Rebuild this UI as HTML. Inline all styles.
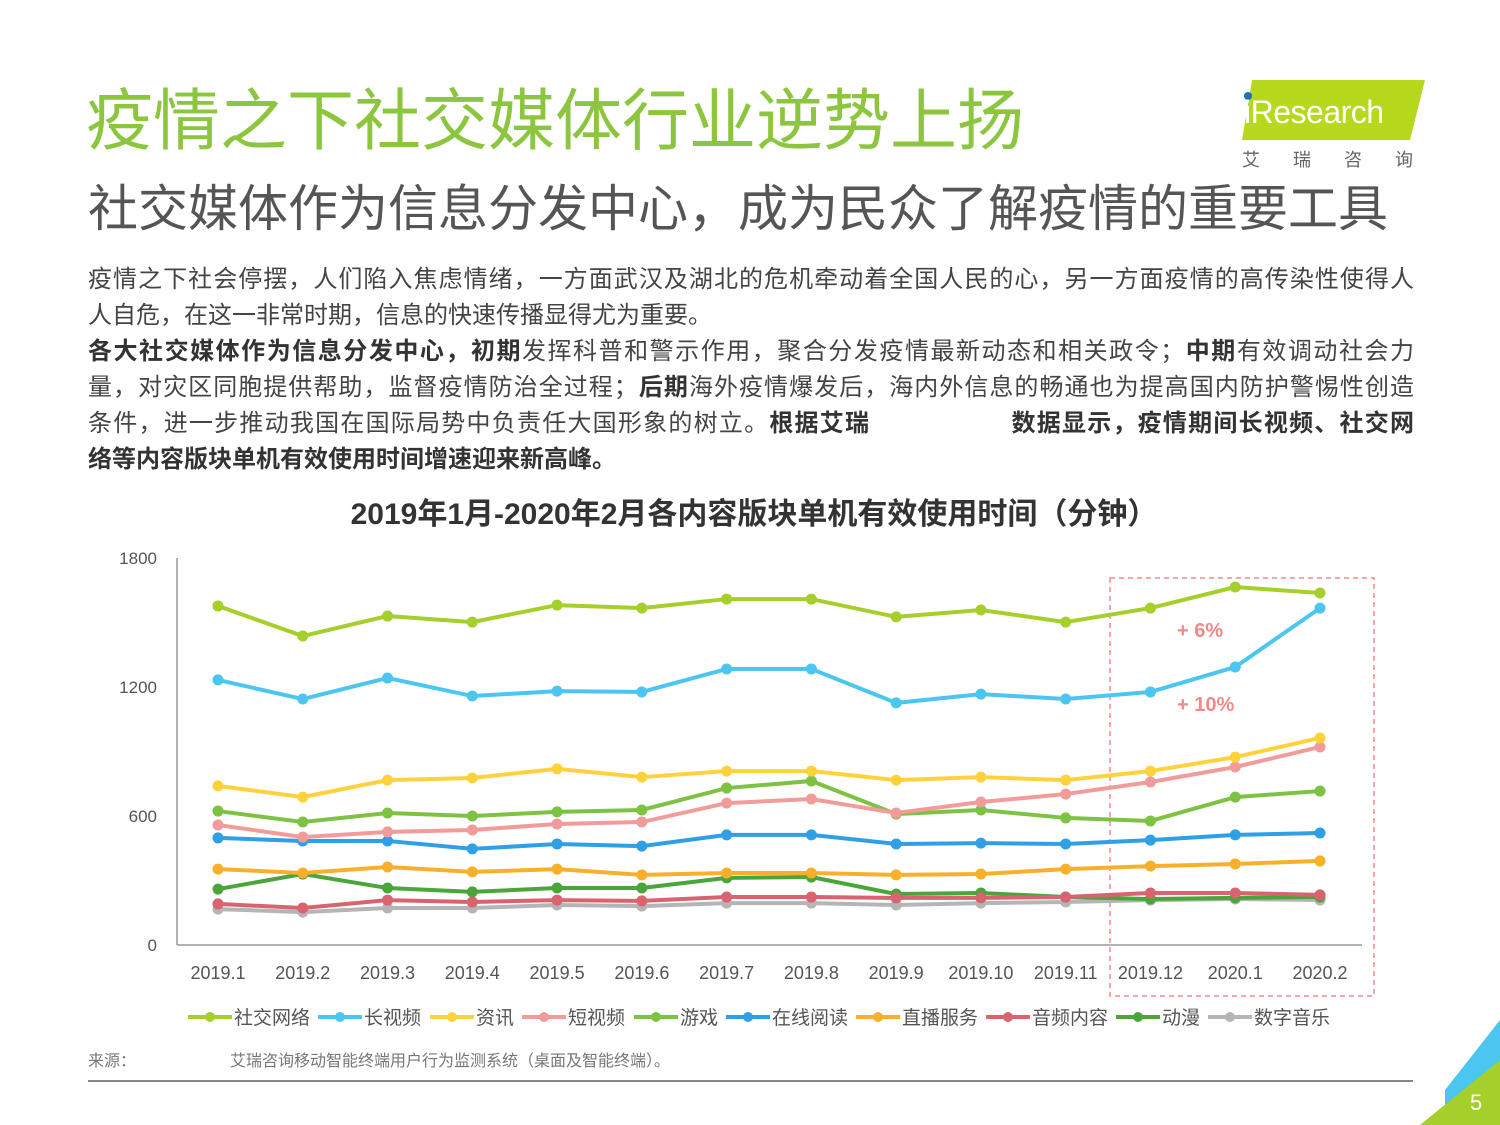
<!DOCTYPE html>
<html><head><meta charset="utf-8">
<style>
*{margin:0;padding:0;box-sizing:border-box}
body{width:1500px;height:1125px;background:#fff;position:relative;overflow:hidden;font-family:"Liberation Sans","Noto Sans CJK SC",sans-serif;color:#444}
.abs{position:absolute}
.ln{position:absolute;left:88px;width:1326px;font-size:24px;line-height:36px;white-space:nowrap;color:#444;text-align:justify;text-align-last:justify}
b{color:#333}
</style></head><body>
<div class="abs" style="left:86px;top:82px;font-size:67px;color:#8cc63f;line-height:80px;white-space:nowrap">疫情之下社交媒体行业逆势上扬</div>
<div class="abs" style="left:88px;top:178px;font-size:50px;color:#555;line-height:62px;white-space:nowrap">社交媒体作为信息分发中心，成为民众了解疫情的重要工具</div>
<div class="abs" style="left:1240px;top:78px;width:190px;height:95px">
<svg width="190" height="95"><polygon points="12,2 185,2 170,62 2,62" fill="#b6d91e"/><circle cx="8" cy="18" r="4" fill="#1f6fb5"/><text x="4" y="45" font-size="32" fill="#fff" font-family="Liberation Sans, sans-serif" letter-spacing="-0.5">iResearch</text></svg>
<div class="abs" style="left:2px;top:68px;font-size:18px;color:#666;letter-spacing:33px;white-space:nowrap">艾瑞咨询</div>
</div>
<div>
<div class="ln" style="top:262px">疫情之下社会停摆，人们陷入焦虑情绪，一方面武汉及湖北的危机牵动着全国人民的心，另一方面疫情的高传染性使得人</div>
<div class="ln" style="top:298px;text-align-last:left">人自危，在这一非常时期，信息的快速传播显得尤为重要。</div>
<div class="ln" style="top:334px"><b>各大社交媒体作为信息分发中心，初期</b>发挥科普和警示作用，聚合分发疫情最新动态和相关政令；<b>中期</b>有效调动社会力</div>
<div class="ln" style="top:370px">量，对灾区同胞提供帮助，监督疫情防治全过程；<b>后期</b>海外疫情爆发后，海内外信息的畅通也为提高国内防护警惕性创造</div>
<div class="ln" style="top:406px">条件，进一步推动我国在国际局势中负责任大国形象的树立。<b>根据艾瑞</b><span style="display:inline-block;width:140px"></span><b>数据显示，疫情期间长视频、社交网</b></div>
<div class="ln" style="top:442px;text-align-last:left"><b>络等内容版块单机有效使用时间增速迎来新高峰。</b></div>
</div>
<div class="abs" style="left:0;width:1508px;top:489px;text-align:center;font-size:30px;font-weight:bold;color:#333;white-space:nowrap">2019年1月-2020年2月各内容版块单机有效使用时间（分钟）</div>
<svg id="chart" class="abs" style="left:0;top:0" width="1500" height="1125"></svg>
<div class="abs" style="left:88px;top:1047px;font-size:16px;color:#777;white-space:nowrap">来源：<span style="display:inline-block;width:94px"></span>艾瑞咨询移动智能终端用户行为监测系统（桌面及智能终端）。</div>
<div class="abs" style="left:88px;top:1080px;width:1325px;height:2px;background:#888"></div>
<svg class="abs" style="left:1400px;top:1020px" width="100" height="105"><polygon points="100,0 100,105 45,105 45,70" fill="#4ac6f0"/><polygon points="100,40 100,105 20,105" fill="#a5cf2a"/><text x="70" y="90" font-size="22" fill="#fff" font-family="Liberation Sans">5</text></svg>
<script>
const categories=["2019.1","2019.2","2019.3","2019.4","2019.5","2019.6","2019.7","2019.8","2019.9","2019.10","2019.11","2019.12","2020.1","2020.2"];
const yTicks=[0,600,1200,1800];
const seriesNames=["社交网络","长视频","资讯","短视频","游戏","在线阅读","直播服务","音频内容","动漫","数字音乐"];
const seriesColors=["#a5cf2a","#4ac6f0","#ffd23c","#f29b9b","#7dc242","#2f9fe6","#f8b02a","#d9636e","#4aa63a","#b5b5b5"];
const sSocial=[1577,1437,1530,1502,1581,1567,1609,1609,1526,1558,1502,1567,1665,1637];
const sLongVideo=[1233,1144,1242,1158,1181,1177,1284,1284,1126,1167,1144,1177,1293,1567];
const sNews=[740,688,767,777,819,781,809,809,767,781,767,809,874,963];
const sShortVideo=[558,502,526,535,563,572,660,679,614,665,702,758,828,921];
const sGame=[623,572,614,600,619,628,730,763,609,628,591,577,688,716];
const sReading=[498,484,484,447,470,460,512,512,470,474,470,488,512,521];
const sLive=[353,335,363,340,353,326,335,335,326,330,353,367,377,391];
const sAudio=[191,172,209,200,209,205,223,223,219,219,223,242,242,233];
const sAnime=[260,330,265,247,265,265,312,316,237,242,223,214,219,223];
const sMusic=[167,153,172,172,186,181,195,195,186,195,200,209,214,209];
const allSeries=[sSocial,sLongVideo,sNews,sShortVideo,sGame,sReading,sLive,sAudio,sAnime,sMusic];
const NS="http://www.w3.org/2000/svg";
const svg=document.getElementById('chart');
const x0=218,dx=(1320-218)/13,yBase=945,yTop=558,yMax=1800;
const X=i=>x0+i*dx;
const Y=v=>yBase-(v/yMax)*(yBase-yTop);
function mk(t,a){const e=document.createElementNS(NS,t);for(const k in a)e.setAttribute(k,a[k]);svg.appendChild(e);return e;}
let e=mk('line',{x1:177,y1:yTop,x2:177,y2:yBase,stroke:'#999','stroke-width':1.5});


e=mk('line',{x1:177,y1:yBase,x2:1362,y2:yBase,stroke:'#999','stroke-width':1.5});


yTicks.forEach(v=>{const t=mk('text',{x:157,y:Y(v)+6,'text-anchor':'end','font-size':17,fill:'#555'});t.textContent=v;

});
categories.forEach((c,i)=>{const t=mk('text',{x:X(i),y:979,'text-anchor':'middle','font-size':18,fill:'#555'});t.textContent=c;

});
e=mk('rect',{x:1110,y:578,width:264,height:418,fill:'none',stroke:'#f08a8a','stroke-width':1.5,'stroke-dasharray':'5,4'});


[["+ 6%",637],["+ 10%",711]].forEach(a=>{const t=mk('text',{x:1177,y:a[1],'font-size':20,'font-weight':'bold',fill:'#f08a8a'});t.textContent=a[0];

});
for(let s=allSeries.length-1;s>=0;s--){
 const d=allSeries[s],c=seriesColors[s];
 const p=mk('polyline',{points:d.map((v,i)=>X(i)+','+Y(v)).join(' '),fill:'none',stroke:c,'stroke-width':4});
 
 
 d.forEach((v,i)=>{const m=mk('circle',{cx:X(i),cy:Y(v),r:5.5,fill:c});
 
 });
}
const legX=[188,318,430,522,634,726,856,986,1116,1208];
seriesNames.forEach((n,i)=>{const g=document.createElementNS(NS,'g');svg.appendChild(g);
 
 
 const x=legX[i];
 const l=document.createElementNS(NS,'line');l.setAttribute('x1',x);l.setAttribute('x2',x+44);l.setAttribute('y1',1017);l.setAttribute('y2',1017);l.setAttribute('stroke',seriesColors[i]);l.setAttribute('stroke-width',4);g.appendChild(l);
 const c=document.createElementNS(NS,'circle');c.setAttribute('cx',x+22);c.setAttribute('cy',1017);c.setAttribute('r',5);c.setAttribute('fill',seriesColors[i]);g.appendChild(c);
 const t=document.createElementNS(NS,'text');t.setAttribute('x',x+46);t.setAttribute('y',1024);t.setAttribute('font-size',19);t.setAttribute('fill','#555');t.textContent=n;g.appendChild(t);
});
</script>
</body></html>
